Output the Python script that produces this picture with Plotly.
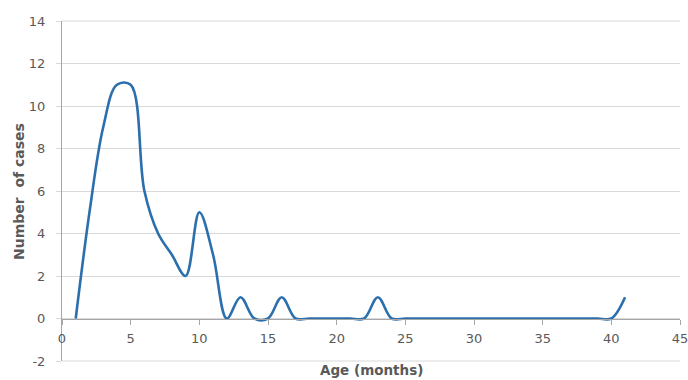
import plotly.graph_objects as go

age_months = list(range(1, 42))
cases = [0, 5, 9, 11, 11, 6, 4, 3, 2, 5,
         3, 0, 1, 0, 0, 1, 0, 0, 0, 0,
         0, 0, 1, 0, 0, 0, 0, 0, 0, 0,
         0, 0, 0, 0, 0, 0, 0, 0, 0, 0,
         1]
x_ticks = [0, 5, 10, 15, 20, 25, 30, 35, 40, 45]
y_ticks = [-2, 0, 2, 4, 6, 8, 10, 12, 14]

W, H = 688, 380
L, R, T, B = 62, 8, 21, 19
plot_h = H - T - B
plot_w = W - L - R

tick_font = dict(family="DejaVu Sans", size=13, color="#595959")

fig = go.Figure()
fig.add_trace(go.Scatter(
    x=age_months, y=cases, mode="lines",
    line=dict(color="#2b6fad", width=2.6, shape="spline", smoothing=1.0),
    showlegend=False, hoverinfo="skip",
))

# edge gridlines (plotly hides the ones lying on the plot border)
for yp in (0, 1):
    fig.add_shape(type="line", xref="paper", yref="paper", x0=0, x1=1, y0=yp, y1=yp,
                  line=dict(color="#d9d9d9", width=1), layer="below")

fig.update_layout(
    width=W, height=H,
    margin=dict(l=L, r=R, t=T, b=B, autoexpand=False),
    paper_bgcolor="white", plot_bgcolor="white",
    xaxis=dict(
        range=[0, 45], tickvals=x_ticks, ticktext=[str(v) for v in x_ticks],
        showgrid=False, zeroline=False, automargin=False,
        showline=True, linecolor="#a6a6a6", linewidth=1,
        ticks="outside", ticklen=5, tickcolor="#a6a6a6",
        tickfont=tick_font, ticklabelstandoff=3, ticklabeloverflow="allow",
        anchor="free", position=2 / 16,
    ),
    yaxis=dict(
        range=[-2, 14], tickvals=y_ticks, ticktext=[str(v) for v in y_ticks],
        showgrid=True, gridcolor="#d9d9d9", gridwidth=1,
        zeroline=False, automargin=False,
        showline=True, linecolor="#a6a6a6", linewidth=1,
        ticks="outside", ticklen=5, tickcolor="#d9d9d9",
        tickfont=tick_font, ticklabelstandoff=8, domain=[0, 1],
    ),
    annotations=[
        dict(text="<b>Age (months)</b>", xref="paper", yref="paper",
             x=0.5, y=-9 / plot_h, xanchor="center", yanchor="middle",
             showarrow=False, font=dict(family="DejaVu Sans", size=13.5, color="#595959")),
        dict(text="<b>Number  of cases</b>", xref="paper", yref="paper",
             x=(19 - L) / plot_w, y=0.5, xanchor="center", yanchor="middle",
             textangle=-90, showarrow=False,
             font=dict(family="DejaVu Sans", size=14, color="#595959")),
    ],
)

fig.write_html("out.html", config={"displayModeBar": False},
               post_script="document.body.style.margin='0';")
